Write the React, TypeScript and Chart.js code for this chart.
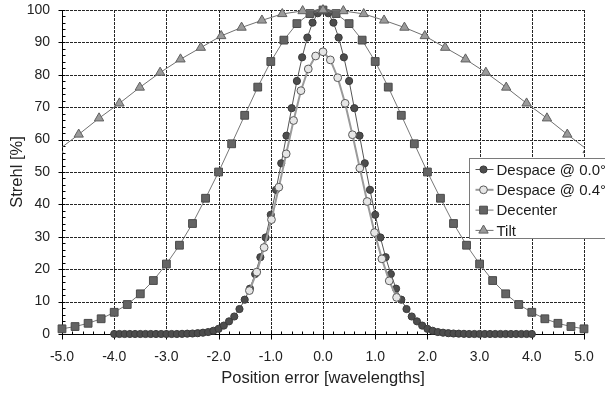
import React, { useEffect, useRef } from 'react';
import { Chart, registerables } from 'chart.js';

Chart.register(...registerables);

const FONT = '"Liberation Sans", Arial, Helvetica, sans-serif';

// ---- Data ----
const seriesNames = ['Despace @ 0.0°', 'Despace @ 0.4°', 'Decenter', 'Tilt'];
const xTitle = 'Position error [wavelengths]';
const yTitle = 'Strehl [%]';

const despace0X = [
  -4.0, -3.9, -3.8, -3.7, -3.6, -3.5, -3.4, -3.3, -3.2, -3.1, -3.0, -2.9, -2.8, -2.7, -2.6, -2.5, -2.4,
  -2.3, -2.2, -2.1, -2.0, -1.9, -1.8, -1.7, -1.6, -1.5, -1.4, -1.3, -1.2, -1.1, -1.0, -0.9, -0.8, -0.7,
  -0.6, -0.5, -0.4, -0.3, -0.2, -0.1, 0.0, 0.1, 0.2, 0.3, 0.4, 0.5, 0.6, 0.7, 0.8, 0.9, 1.0, 1.1, 1.2,
  1.3, 1.4, 1.5, 1.6, 1.7, 1.8, 1.9, 2.0, 2.1, 2.2, 2.3, 2.4, 2.5, 2.6, 2.7, 2.8, 2.9, 3.0, 3.1, 3.2,
  3.3, 3.4, 3.5, 3.6, 3.7, 3.8, 3.9, 4.0,
];
const despace0Y = [
  0, 0, 0, 0, 0, 0, 0, 0, 0, 0, 0, 0, 0, 0.05, 0.1, 0.15, 0.25,
  0.4, 0.6, 1.0, 1.6, 2.6, 3.9, 5.4, 7.7, 10.6, 14.0, 18.5, 23.7, 29.8, 36.8, 44.5, 52.7, 61.2,
  69.7, 78.1, 85.4, 91.5, 96.1, 99.0, 100, 99.0, 96.1, 91.5, 85.4, 78.1, 69.7, 61.2, 52.7, 44.5, 36.8, 29.8, 23.7,
  18.5, 14.0, 10.6, 7.7, 5.4, 3.9, 2.6, 1.6, 1.0, 0.6, 0.4, 0.25, 0.15, 0.1, 0.05, 0, 0, 0, 0, 0,
  0, 0, 0, 0, 0, 0, 0, 0,
];

const despace4X = [
  -1.41, -1.269, -1.128, -0.987, -0.846, -0.705, -0.564, -0.423, -0.282, -0.141, 0,
  0.141, 0.282, 0.423, 0.564, 0.705, 0.846, 0.987, 1.128, 1.269, 1.41,
];
const despace4Y = [
  13.4, 19.1, 26.7, 35.3, 45.3, 55.6, 65.9, 75.1, 81.8, 85.8, 87.1,
  84.6, 79.1, 71.2, 61.5, 51.2, 40.9, 31.3, 23.2, 16.4, 11.3,
];

const decenterX = [
  -5.0, -4.75, -4.5, -4.25, -4.0, -3.75, -3.5, -3.25, -3.0, -2.75, -2.5, -2.25, -2.0, -1.75, -1.5,
  -1.25, -1.0, -0.75, -0.5, -0.25, 0, 0.25, 0.5, 0.75, 1.0, 1.25, 1.5, 1.75, 2.0, 2.25, 2.5, 2.75,
  3.0, 3.25, 3.5, 3.75, 4.0, 4.25, 4.5, 4.75, 5.0,
];
const decenterY = [
  1.6, 2.3, 3.3, 4.7, 6.7, 9.1, 12.4, 16.5, 21.6, 27.4, 34.1, 41.9, 50.0, 58.7, 67.5,
  76.2, 84.1, 90.7, 95.8, 98.9, 100, 98.9, 95.8, 90.7, 84.1, 76.2, 67.5, 58.7, 50.0, 41.9, 34.1, 27.4,
  21.6, 16.5, 12.4, 9.1, 6.7, 4.7, 3.3, 2.3, 1.6,
];

const tiltX = [
  -5.07, -4.68, -4.29, -3.9, -3.51, -3.12, -2.73, -2.34, -1.95, -1.56, -1.17, -0.78, -0.39, 0,
  0.39, 0.78, 1.17, 1.56, 1.95, 2.34, 2.73, 3.12, 3.51, 3.9, 4.29, 4.68, 5.07,
];
const tiltY = [
  56.8, 61.6, 66.6, 71.2, 76.1, 80.7, 84.8, 88.4, 92.0, 94.6, 96.8, 98.8, 99.7, 100,
  99.7, 98.8, 96.8, 94.6, 92.0, 88.4, 84.8, 80.7, 76.1, 71.2, 66.6, 61.6, 56.8,
];

const xMin = -5, xMax = 5, xStep = 1, xMinor = 0.2;
const yMin = 0, yMax = 100, yStep = 10, yMinor = 2;

const toPts = (xs: number[], ys: number[]) => xs.map((x, i) => ({ x, y: ys[i] }));

// ---- Styles per series ----
const styles = [
  { line: '#555555', lw: 1, fill: '#4d4d4d', border: '#3a3a3a', shape: 'circle', r: 3.6 },
  { line: '#9a9a9a', lw: 2, fill: '#e6e6e6', border: '#5a5a5a', shape: 'circle', r: 3.9 },
  { line: '#777777', lw: 1, fill: '#646464', border: '#4a4a4a', shape: 'rect', r: 5.5 },
  { line: '#707070', lw: 1, fill: '#9a9a9a', border: '#606060', shape: 'triangle', r: 5.4 },
];

function drawMarker(ctx: CanvasRenderingContext2D, shape: string, x: number, y: number, r: number) {
  ctx.beginPath();
  if (shape === 'circle') {
    ctx.arc(x, y, r, 0, Math.PI * 2);
  } else if (shape === 'rect') {
    const s = r * Math.SQRT1_2;
    ctx.rect(x - s, y - s, 2 * s, 2 * s);
  } else {
    let a = 0;
    ctx.moveTo(x + Math.sin(a) * r, y - Math.cos(a) * r);
    a += (2 * Math.PI) / 3;
    ctx.lineTo(x + Math.sin(a) * r, y - Math.cos(a) * r);
    a += (2 * Math.PI) / 3;
    ctx.lineTo(x + Math.sin(a) * r, y - Math.cos(a) * r);
    ctx.closePath();
  }
  ctx.fill();
  ctx.stroke();
}

const gridPlugin = {
  id: 'excelGrid',
  beforeDatasetsDraw(chart: any) {
    const { ctx, chartArea: a, scales } = chart;
    const xs = scales.x, ys = scales.y;
    ctx.save();
    ctx.lineWidth = 1;
    ctx.strokeStyle = '#262626';
    ctx.setLineDash([3, 1]);
    for (let v = xMin + xStep; v <= xMax + 1e-9; v += xStep) {
      const px = Math.round(xs.getPixelForValue(v)) + 0.5;
      ctx.beginPath();
      ctx.moveTo(px, a.top);
      ctx.lineTo(px, a.bottom);
      ctx.stroke();
    }
    for (let v = yMin + yStep; v <= yMax + 1e-9; v += yStep) {
      const py = Math.round(ys.getPixelForValue(v)) + 0.5;
      ctx.beginPath();
      ctx.moveTo(a.left, py);
      ctx.lineTo(a.right, py);
      ctx.stroke();
    }
    ctx.setLineDash([]);
    ctx.strokeStyle = '#000000';
    const lx = Math.round(a.left) + 0.5;
    const by = Math.round(a.bottom) + 0.5;
    ctx.beginPath();
    ctx.moveTo(lx, a.top);
    ctx.lineTo(lx, by);
    ctx.lineTo(a.right + 0.5, by);
    ctx.stroke();
    for (let v = yMin; v <= yMax + 1e-9; v += yMinor) {
      const py = Math.round(ys.getPixelForValue(v)) + 0.5;
      const major = Math.abs(v / yStep - Math.round(v / yStep)) < 1e-6;
      ctx.beginPath();
      ctx.moveTo(major ? lx - 4 : lx, py);
      ctx.lineTo(lx + 3, py);
      ctx.stroke();
    }
    for (let v = xMin; v <= xMax + 1e-9; v += xMinor) {
      const px = Math.round(xs.getPixelForValue(v)) + 0.5;
      const major = Math.abs(v / xStep - Math.round(v / xStep)) < 1e-6;
      ctx.beginPath();
      ctx.moveTo(px, by - 3);
      ctx.lineTo(px, major ? by + 5 : by);
      ctx.stroke();
    }
    ctx.restore();
  },
};

const legendPlugin = {
  id: 'boxLegend',
  afterDraw(chart: any) {
    const { ctx, chartArea: a } = chart;
    const x0 = Math.round(a.right) - 115 + 0.5;
    const y0 = 158.5;
    ctx.save();
    ctx.setLineDash([]);
    ctx.fillStyle = '#ffffff';
    ctx.fillRect(x0, y0, 160, 80);
    ctx.strokeStyle = '#7a7a7a';
    ctx.lineWidth = 1;
    ctx.strokeRect(x0, y0, 160, 80);
    ctx.font = '15px ' + FONT;
    ctx.textBaseline = 'middle';
    ctx.textAlign = 'left';
    seriesNames.forEach((name, i) => {
      const st = styles[i];
      const cy = y0 + 11 + i * 20.3;
      ctx.strokeStyle = st.line;
      ctx.lineWidth = st.lw;
      ctx.beginPath();
      ctx.moveTo(x0 + 6, cy);
      ctx.lineTo(x0 + 24, cy);
      ctx.stroke();
      ctx.fillStyle = st.fill;
      ctx.strokeStyle = st.border;
      ctx.lineWidth = 1;
      drawMarker(ctx, st.shape, x0 + 14, cy, st.r);
      ctx.fillStyle = '#1a1a1a';
      ctx.fillText(name, x0 + 27, cy + 1);
    });
    ctx.restore();
  },
};

export default function App() {
  const ref = useRef<HTMLCanvasElement | null>(null);

  useEffect(() => {
    if (!ref.current) return;
    Chart.defaults.font.family = FONT;
    const mk = (i: number, xs: number[], ys: number[], order: number, clip: any) => ({
      label: seriesNames[i],
      data: toPts(xs, ys),
      showLine: true,
      borderColor: styles[i].line,
      borderWidth: styles[i].lw,
      pointStyle: styles[i].shape,
      pointRadius: styles[i].r,
      pointHoverRadius: styles[i].r,
      pointBackgroundColor: styles[i].fill,
      pointBorderColor: styles[i].border,
      pointBorderWidth: 1,
      tension: 0,
      order,
      clip,
    });
    const chart = new Chart(ref.current, {
      type: 'scatter',
      data: {
        datasets: [
          mk(0, despace0X, despace0Y, 3, 10),
          mk(1, despace4X, despace4Y, 2, 10),
          mk(2, decenterX, decenterY, 1, 10),
          mk(3, tiltX, tiltY, 0, { left: 0, right: 0, top: 10, bottom: 10 }),
        ],
      },
      options: {
        responsive: false,
        animation: false,
        devicePixelRatio: 1,
        layout: { padding: { left: 0, right: 21, top: 10, bottom: 0 } },
        plugins: { legend: { display: false }, tooltip: { enabled: false } },
        events: [],
        scales: {
          x: {
            type: 'linear',
            min: xMin,
            max: xMax,
            grid: { display: false, drawTicks: true, tickLength: 12 },
            border: { display: false },
            ticks: {
              stepSize: xStep,
              padding: 3,
              color: '#222222',
              font: { size: 14, family: FONT },
              maxRotation: 0,
              callback: (v: any) => Number(v).toFixed(1),
            },
            title: {
              display: true,
              text: xTitle,
              color: '#222222',
              font: { size: 16.5, family: FONT },
              padding: { top: 0, bottom: 6 },
            },
            afterFit: (s: any) => { s.height = 60; },
          },
          y: {
            type: 'linear',
            min: yMin,
            max: yMax,
            grid: { display: false, drawTicks: true, tickLength: 11 },
            border: { display: false },
            ticks: {
              stepSize: yStep,
              padding: 1,
              color: '#222222',
              font: { size: 14, family: FONT },
            },
            title: {
              display: true,
              text: yTitle,
              color: '#222222',
              font: { size: 16.5, family: FONT },
              padding: { top: 8, bottom: 0 },
            },
            afterFit: (s: any) => { s.width = 62; },
          },
        },
      },
      plugins: [gridPlugin, legendPlugin],
    });
    return () => chart.destroy();
  }, []);

  return (
    <div style={{ position: 'absolute', left: 0, top: 0, width: 605, height: 394, background: '#fff' }}>
      <canvas ref={ref} width={605} height={394} style={{ display: 'block', width: 605, height: 394 }} />
    </div>
  );
}
